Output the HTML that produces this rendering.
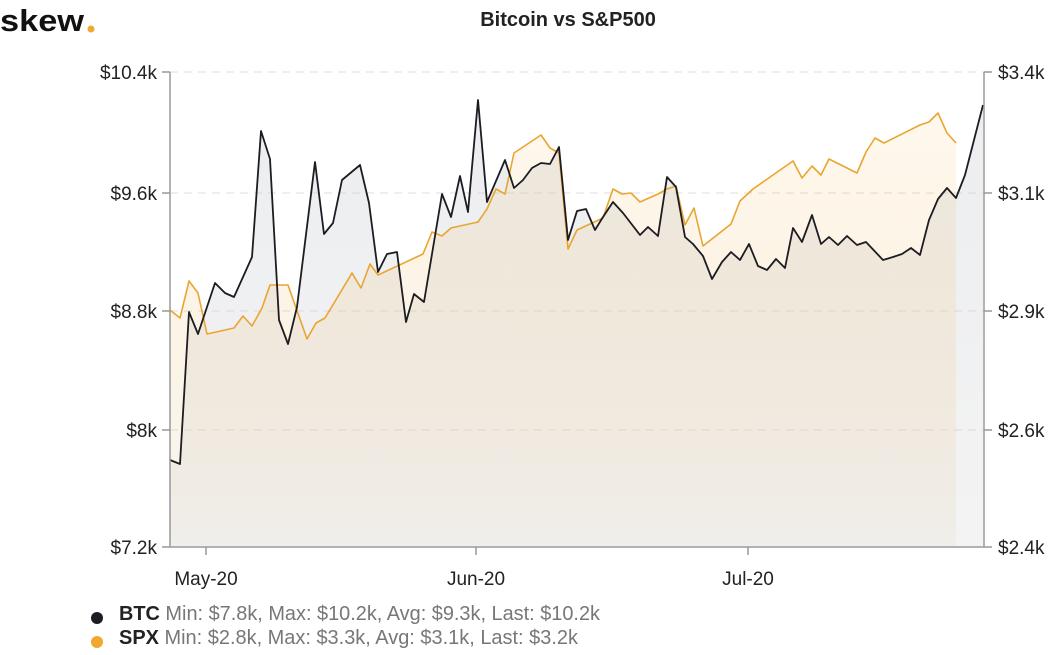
<!DOCTYPE html>
<html><head><meta charset="utf-8"><style>
html,body{margin:0;padding:0;background:#fff;}
body{width:1053px;height:650px;overflow:hidden;font-family:"Liberation Sans",sans-serif;}
</style></head><body>
<svg width="1053" height="650" viewBox="0 0 1053 650" xmlns="http://www.w3.org/2000/svg" font-family="Liberation Sans, sans-serif">
<defs>
<linearGradient id="gs" x1="0" y1="0" x2="0" y2="1"><stop offset="0" stop-color="#f5a623" stop-opacity="0.08"/><stop offset="1" stop-color="#e8e2d6" stop-opacity="0.3"/></linearGradient>
<linearGradient id="gb" x1="0" y1="0" x2="0" y2="1"><stop offset="0" stop-color="#c8ccd4" stop-opacity="0.35"/><stop offset="1" stop-color="#d8d8d8" stop-opacity="0.3"/></linearGradient>
</defs>
<text x="0" y="31" font-size="31" font-weight="bold" fill="#111" textLength="84" lengthAdjust="spacingAndGlyphs">skew</text>
<circle cx="91" cy="29" r="3.5" fill="#f0a830"/>
<text x="568" y="26" font-size="20" font-weight="bold" fill="#222" text-anchor="middle">Bitcoin vs S&amp;P500</text>
<g stroke="#ddd" stroke-dasharray="8,6" stroke-width="1">
<line x1="170" y1="72" x2="984" y2="72"/><line x1="170" y1="193" x2="984" y2="193"/><line x1="170" y1="311" x2="984" y2="311"/><line x1="170" y1="430" x2="984" y2="430"/>
</g>
<path fill="url(#gb)" d="M170,546 L170,460 180,464 189,312 198,334 215,283 225,293 234,297 252,257 261,131 270,159 279,320 288,344 297,307 315,162 324,234 333,223 342,180 360,165 369,203 378,272 387,254 397,252 406,322 414,294 424,302 442,194 451,217 460,176 468,212 478,100 487,202 505,160 514,188 523,180 532,168 541,163 550,164 559,147 568,240 577,211 586,209 595,230 603,217 613,202 623,213 640,235 648,227 658,236 667,177 676,187 685,237 693,244 703,256 712,279 722,262 731,252 740,260 749,244 758,266 767,270 776,259 785,268 793,228 802,242 812,215 821,244 829,237 838,245 847,236 857,245 866,242 883,260 893,257 902,254 911,248 920,255 929,220 938,199 947,188 956,198 965,175 974,140 983,105 L983,546 Z"/>
<path fill="url(#gs)" d="M170,546 L170,310 180,318 189,281 198,293 207,334 234,328 243,316 252,326 262,308 270,285 288,285 307,339 316,323 325,318 352,273 361,288 370,264 378,275 423,254 432,232 442,236 451,228 478,222 487,209 496,189 505,194 514,153 541,135 550,148 559,153 568,249 577,230 603,218 613,189 622,194 631,193 640,202 658,194 667,189 676,186 685,225 694,208 703,246 731,224 740,201 753,189 793,161 802,178 812,166 821,175 829,159 857,173 866,152 875,138 884,143 920,125 929,122 938,113 947,133 956,143 L956,546 Z"/>
<polyline fill="none" stroke="#e8a630" stroke-width="1.6" stroke-linejoin="round" points="170,310 180,318 189,281 198,293 207,334 234,328 243,316 252,326 262,308 270,285 288,285 307,339 316,323 325,318 352,273 361,288 370,264 378,275 423,254 432,232 442,236 451,228 478,222 487,209 496,189 505,194 514,153 541,135 550,148 559,153 568,249 577,230 603,218 613,189 622,194 631,193 640,202 658,194 667,189 676,186 685,225 694,208 703,246 731,224 740,201 753,189 793,161 802,178 812,166 821,175 829,159 857,173 866,152 875,138 884,143 920,125 929,122 938,113 947,133 956,143"/>
<polyline fill="none" stroke="#1c1c22" stroke-width="1.8" stroke-linejoin="round" points="170,460 180,464 189,312 198,334 215,283 225,293 234,297 252,257 261,131 270,159 279,320 288,344 297,307 315,162 324,234 333,223 342,180 360,165 369,203 378,272 387,254 397,252 406,322 414,294 424,302 442,194 451,217 460,176 468,212 478,100 487,202 505,160 514,188 523,180 532,168 541,163 550,164 559,147 568,240 577,211 586,209 595,230 603,217 613,202 623,213 640,235 648,227 658,236 667,177 676,187 685,237 693,244 703,256 712,279 722,262 731,252 740,260 749,244 758,266 767,270 776,259 785,268 793,228 802,242 812,215 821,244 829,237 838,245 847,236 857,245 866,242 883,260 893,257 902,254 911,248 920,255 929,220 938,199 947,188 956,198 965,175 974,140 983,105"/>
<g stroke="#999" stroke-width="1.5">
<line x1="170" y1="72" x2="170" y2="547"/><line x1="984" y1="72" x2="984" y2="547"/><line x1="162" y1="547" x2="992" y2="547"/>
<line x1="162" y1="72" x2="170" y2="72"/><line x1="162" y1="193" x2="170" y2="193"/><line x1="162" y1="311" x2="170" y2="311"/><line x1="162" y1="430" x2="170" y2="430"/>
<line x1="984" y1="72" x2="992" y2="72"/><line x1="984" y1="193" x2="992" y2="193"/><line x1="984" y1="311" x2="992" y2="311"/><line x1="984" y1="430" x2="992" y2="430"/>
<line x1="206" y1="547" x2="206" y2="555"/><line x1="476" y1="547" x2="476" y2="555"/><line x1="748" y1="547" x2="748" y2="555"/>
</g>
<g font-size="19" fill="#222" text-anchor="end">
<text x="157" y="79">$10.4k</text><text x="157" y="200">$9.6k</text><text x="157" y="318">$8.8k</text><text x="157" y="437">$8k</text><text x="157" y="554">$7.2k</text>
</g>
<g font-size="19" fill="#222">
<text x="998" y="79">$3.4k</text><text x="998" y="200">$3.1k</text><text x="998" y="318">$2.9k</text><text x="998" y="437">$2.6k</text><text x="998" y="554">$2.4k</text>
</g>
<g font-size="19" fill="#222" text-anchor="middle">
<text x="206" y="585">May-20</text><text x="476" y="585">Jun-20</text><text x="748" y="585">Jul-20</text>
</g>
<circle cx="97" cy="618" r="6" fill="#1c1c22"/>
<circle cx="97" cy="642" r="6" fill="#f0a830"/>
<text x="119" y="620" font-size="20" fill="#777" textLength="481" lengthAdjust="spacingAndGlyphs"><tspan font-weight="bold" fill="#222">BTC</tspan> Min: $7.8k, Max: $10.2k, Avg: $9.3k, Last: $10.2k</text>
<text x="119" y="644" font-size="20" fill="#777" textLength="459" lengthAdjust="spacingAndGlyphs"><tspan font-weight="bold" fill="#222">SPX</tspan> Min: $2.8k, Max: $3.3k, Avg: $3.1k, Last: $3.2k</text>
</svg>
</body></html>
